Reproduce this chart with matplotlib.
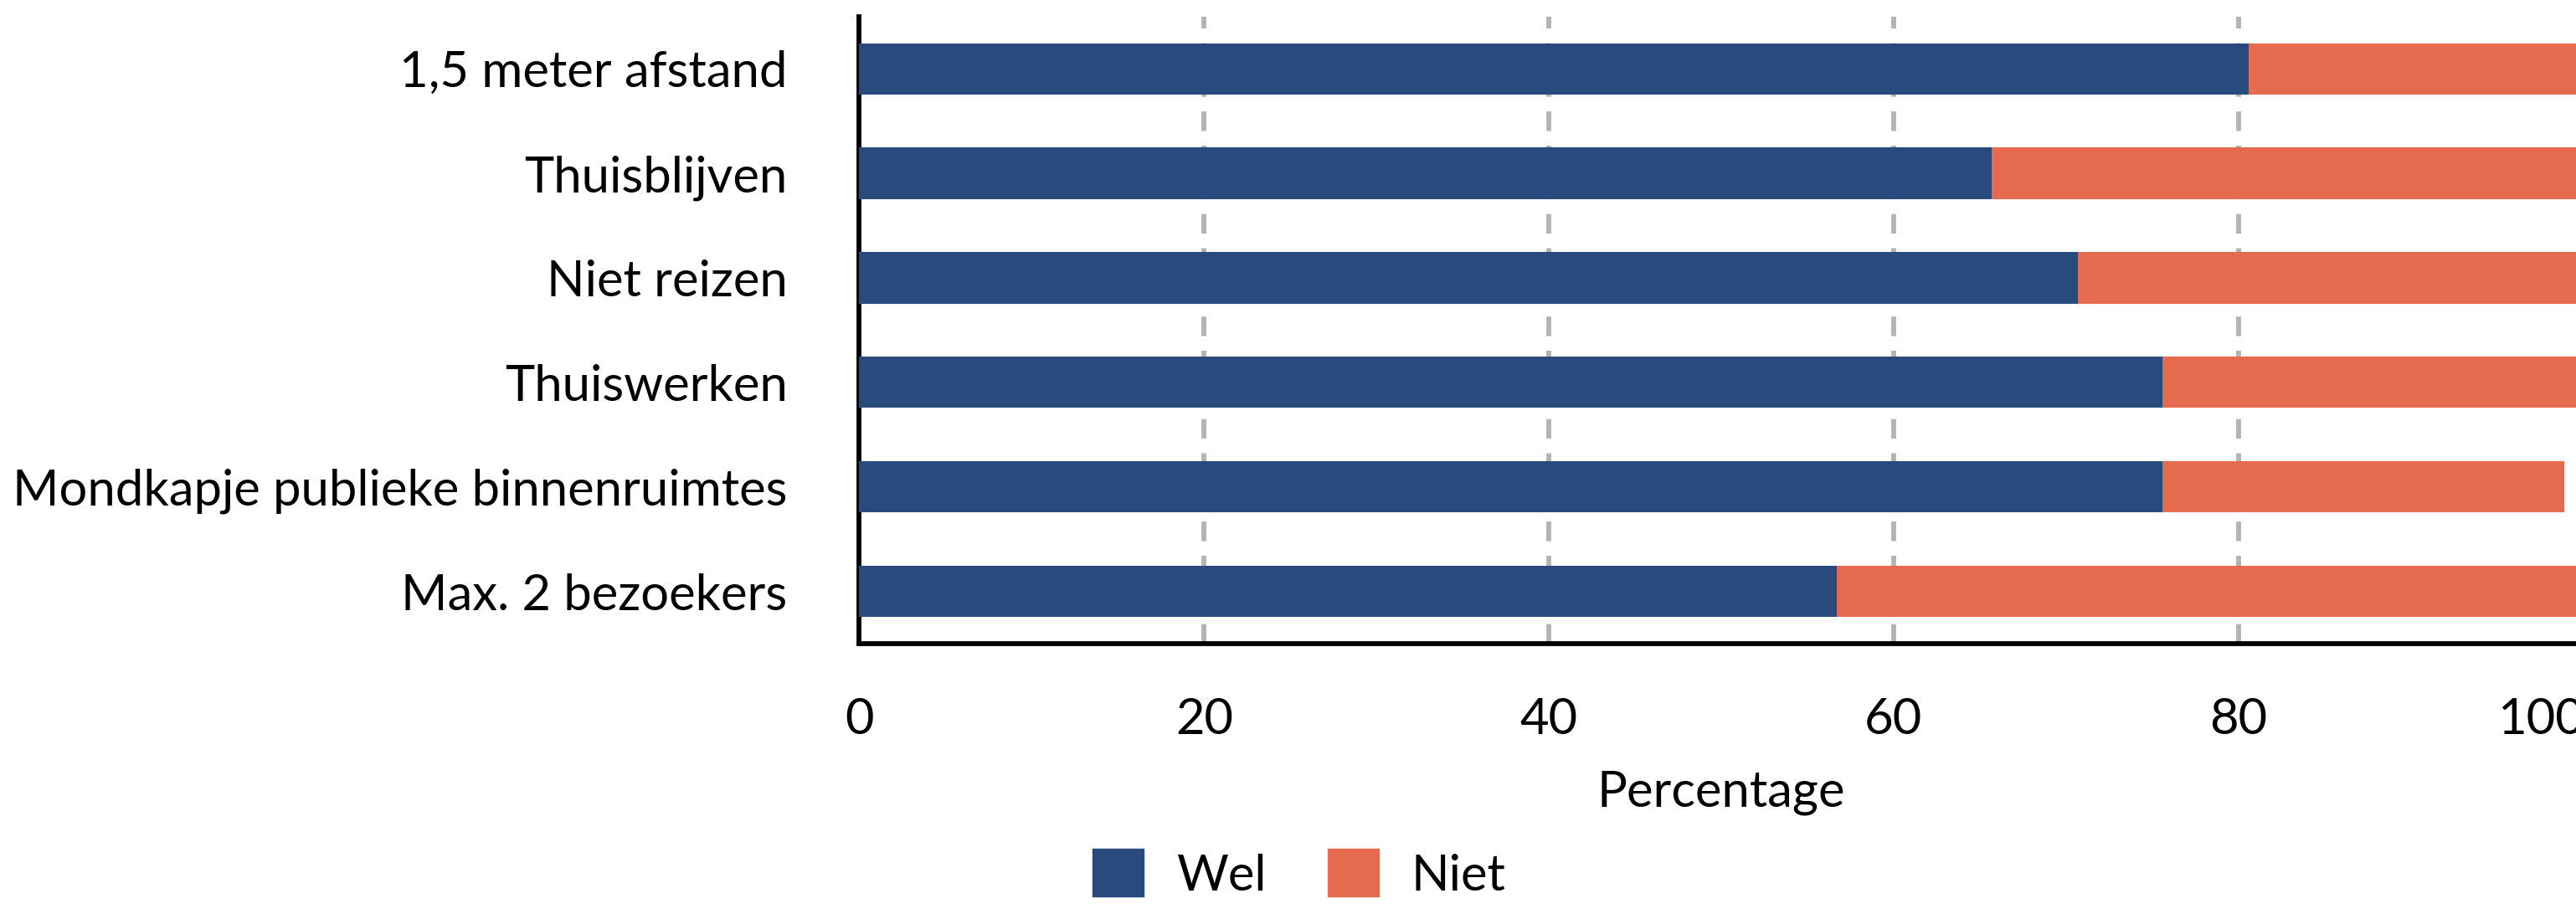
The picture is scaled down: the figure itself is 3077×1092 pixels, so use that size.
import matplotlib.pyplot as plt
import matplotlib.transforms as mtransforms
import numpy as np
from matplotlib.patches import Patch

plt.rcParams['font.family'] = ['Lato', 'DejaVu Sans']

# data
categories = ['1,5 meter afstand', 'Thuisblijven', 'Niet reizen', 'Thuiswerken',
              'Mondkapje publieke binnenruimtes', 'Max. 2 bezoekers']
wel = [80.6, 65.7, 70.7, 75.6, 75.6, 56.7]
niet = [19.4, 34.3, 29.3, 24.4, 23.3, 43.3]
series_labels = ['Wel', 'Niet']
colors = ['#294a7c', '#e66b4e']
xticks = [0, 20, 40, 60, 80, 100]

fs = 21.5

fig = plt.figure(figsize=(3077 / 200, 1092 / 200), dpi=200)
ax = fig.add_axes([0.3336, 0.2957, 0.6691, 0.6863])

y = np.arange(len(categories))
ax.barh(y, wel, height=0.49, color=colors[0], zorder=3)
ax.barh(y, niet, left=wel, height=0.49, color=colors[1], zorder=3)

ax.set_xlim(0, 100)
ax.set_ylim(len(categories) - 0.5, -0.5)
ax.set_yticks(y)
ax.set_yticklabels(categories, fontsize=fs)
ax.set_xticks(xticks)
ax.set_xticklabels([str(t) for t in xticks], fontsize=fs)
ax.tick_params(axis='y', length=0, pad=31)
ax.tick_params(axis='x', length=0, pad=23)
ax.set_xlabel('Percentage', fontsize=fs, labelpad=12)

# the last tick label sits a bit to the left, as in the original
last = ax.get_xticklabels()[-1]
last.set_transform(last.get_transform() +
                   mtransforms.ScaledTranslation(-0.25, 0, fig.dpi_scale_trans))

# dashed vertical gridlines behind the bars
ax.grid(axis='x', color='#b3b3b3', linewidth=2.1, dashes=(4, 3), zorder=0)
ax.set_axisbelow(True)

for side in ['top', 'right']:
    ax.spines[side].set_visible(False)
ax.spines['left'].set_linewidth(2.1)
ax.spines['bottom'].set_linewidth(2.1)

handles = [Patch(facecolor=c, edgecolor=c, linewidth=3, joinstyle='round', label=l)
           for c, l in zip(colors, series_labels)]
fig.legend(handles=handles, loc='center', bbox_to_anchor=(0.505, 0.042), ncol=2,
           frameon=False, fontsize=fs, handlelength=0.9, handleheight=0.9,
           handletextpad=0.7, columnspacing=1.3)

fig.savefig('out.png', dpi=200)
